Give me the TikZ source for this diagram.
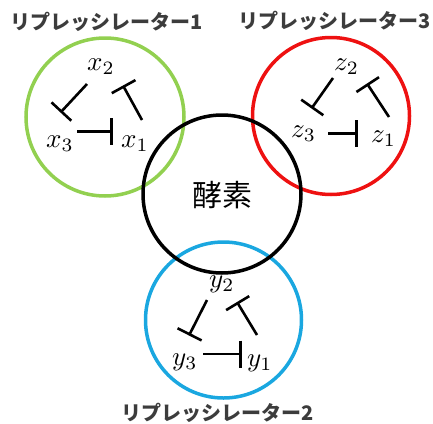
\documentclass[tikz,border=0pt]{standalone}
\usepackage{fontspec}
\newfontfamily\jp{Noto Sans CJK JP}
\usetikzlibrary{arrows.meta}
\definecolor{cgreen}{HTML}{92D050}
\definecolor{cred}{HTML}{EE1111}
\definecolor{cblue}{HTML}{1AA7E0}
\definecolor{lblgray}{HTML}{3C3C3C}
\newcommand{\bigvar}[1]{\scalebox{2.7}{$#1$}}
\tikzset{
  ring/.style={line width=3.5pt},
  inh/.style={line width=2.6pt, -{Bar[width=27pt,line width=2.6pt]}},
  var/.style={inner sep=0pt, anchor=base west},
  lbl/.style={inner sep=0pt, text=lblgray, font=\jp\bfseries\fontsize{20}{22}\selectfont},
  enz/.style={inner sep=0pt, font=\jp\fontsize{30}{34}\selectfont},
}
\begin{document}
\begin{tikzpicture}[x=1pt,y=-1pt]
\useasboundingbox (0,0) rectangle (433,423);
% circles
\node[ring, draw=cgreen, circle, minimum size=158pt, inner sep=0pt] (cg) at (105,117) {};
\node[ring, draw=cred, circle, minimum size=157pt, inner sep=0pt] (cr) at (331,116) {};
\node[ring, draw=cblue, circle, minimum size=156pt, inner sep=0pt] (cb) at (223.5,320) {};
\node[ring, draw=black, circle, minimum size=158pt, inner sep=0pt] (ck) at (222,194) {};
% labels
\node[lbl] (l1) at (106.5,22) {リプレッシレーター1};
\node[lbl] (l3) at (334.5,21) {リプレッシレーター3};
\node[lbl] (l2) at (217.5,413) {リプレッシレーター2};
\node[enz] (enz) at (222,195) {酵素};
% repressilator 1
\node[var] (x2) at (87,70) {\bigvar{x_2}};
\node[var] (x3) at (46,147) {\bigvar{x_3}};
\node[var] (x1) at (121,147) {\bigvar{x_1}};
\coordinate (a31) at (77,131.5);  \coordinate (b31) at (113,131.5);
\coordinate (a23) at (87,84);     \coordinate (b23) at (60.5,112.5);
\coordinate (a12) at (142,120);   \coordinate (b12) at (123,85.5);
\draw[inh] (a31) -- (b31);
\draw[inh] (a23) -- (b23);
\draw[inh] (a12) -- (b12);
% repressilator 3
\node[var] (z2) at (334,70) {\bigvar{z_2}};
\node[var] (z3) at (291,137) {\bigvar{z_3}};
\node[var] (z1) at (371,142) {\bigvar{z_1}};
\coordinate (c31) at (328,133.5); \coordinate (d31) at (358,133.5);
\coordinate (c23) at (333,78);    \coordinate (d23) at (311.5,108.5);
\coordinate (c12) at (389,117);   \coordinate (d12) at (367,83.5);
\draw[inh] (c31) -- (d31);
\draw[inh] (c23) -- (d23);
\draw[inh] (c12) -- (d12);
% repressilator 2
\node[var] (y2) at (209,287) {\bigvar{y_2}};
\node[var] (y3) at (172,365) {\bigvar{y_3}};
\node[var] (y1) at (247,366) {\bigvar{y_1}};
\coordinate (e31) at (203,354);   \coordinate (f31) at (242,354);
\coordinate (e23) at (207,300);   \coordinate (f23) at (189,335.5);
\coordinate (e12) at (257,335);   \coordinate (f12) at (237,302);
\draw[inh] (e31) -- (f31);
\draw[inh] (e23) -- (f23);
\draw[inh] (e12) -- (f12);
\end{tikzpicture}
\end{document}
